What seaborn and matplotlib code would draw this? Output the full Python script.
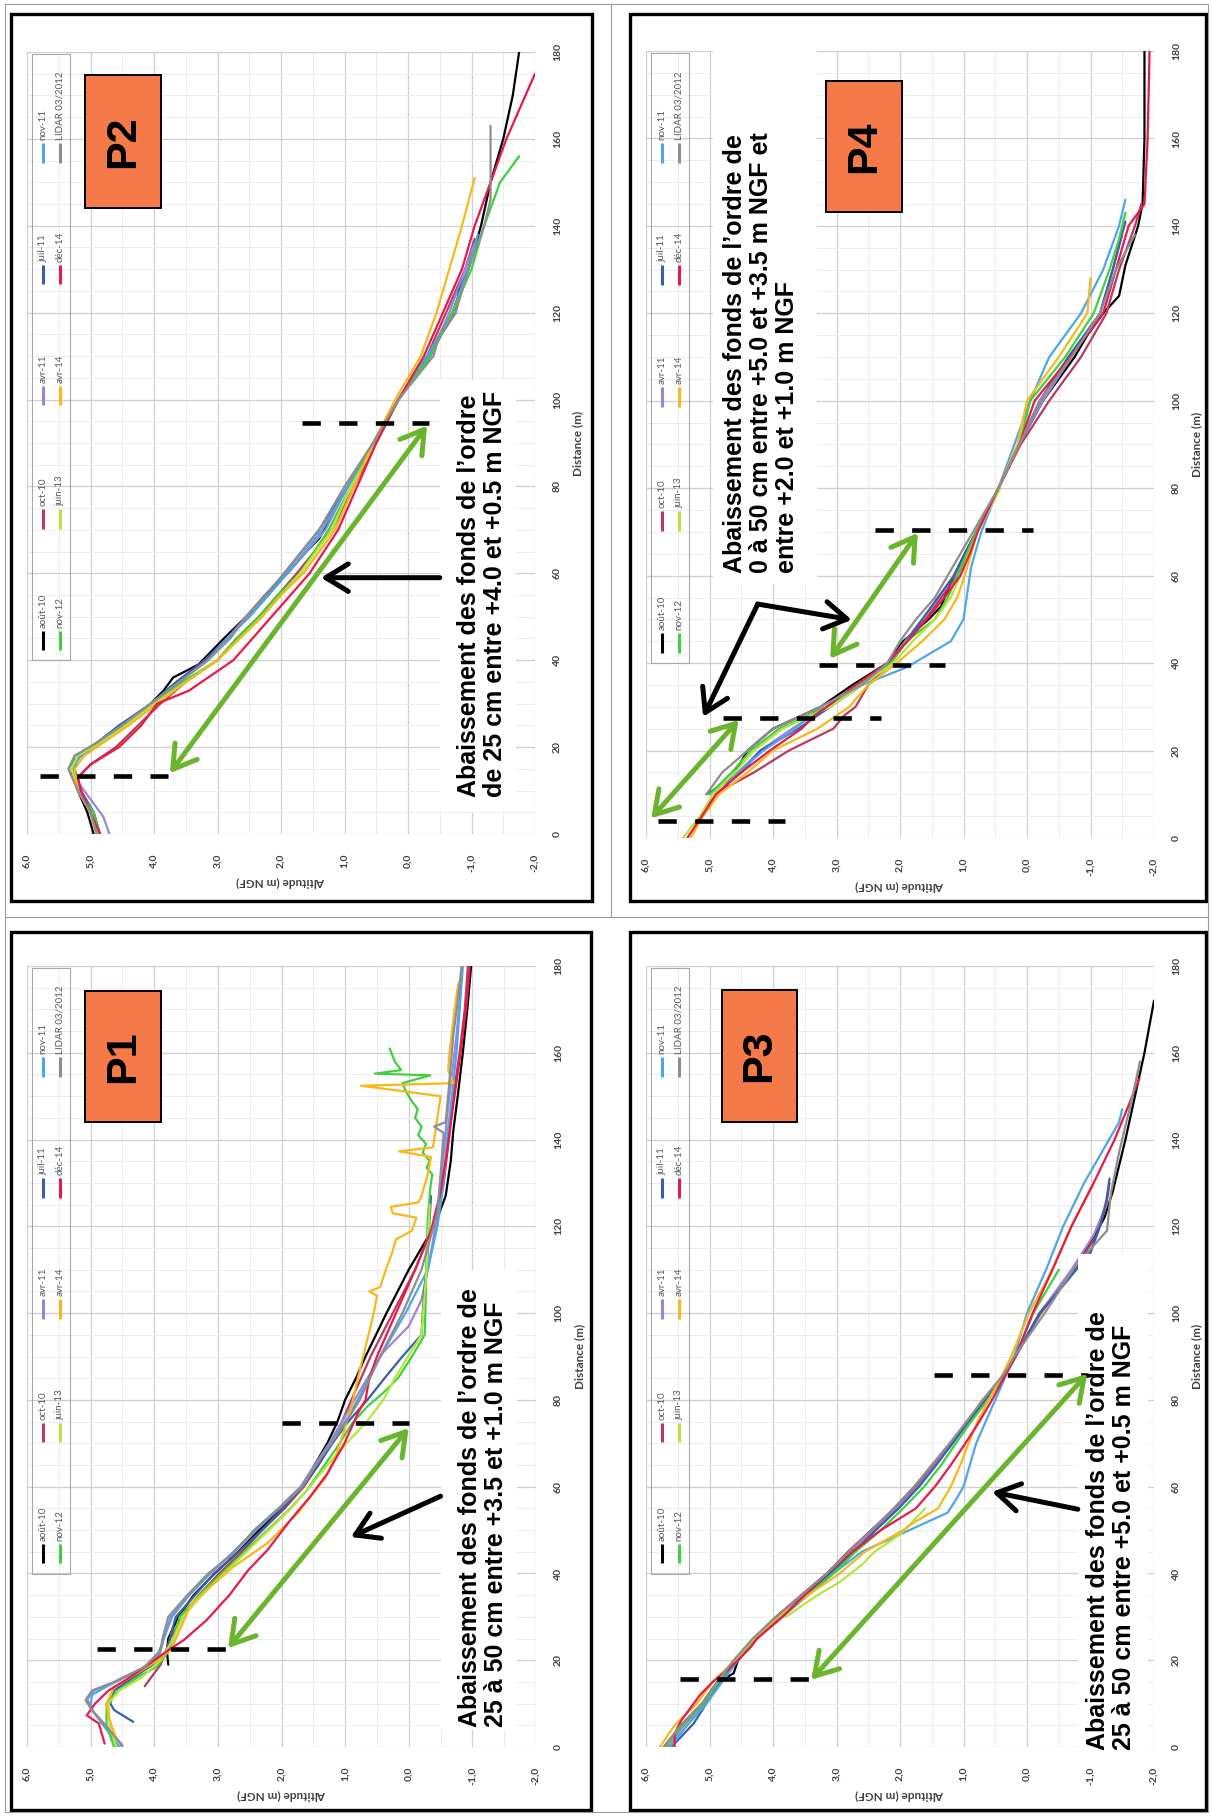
import numpy as np
import pandas as pd
import matplotlib
matplotlib.use("Agg")
import matplotlib.pyplot as plt
import seaborn as sns
from matplotlib.patches import Rectangle
from matplotlib.lines import Line2D

sns.set_theme(style="white")
plt.rcParams['font.family'] = ['Liberation Sans', 'DejaVu Sans']

W, H = 1212, 1816

SERIES = ['août-10', 'oct-10', 'avr-11', 'juil-11', 'nov-11',
          'nov-12', 'juin-13', 'avr-14', 'déc-14', 'LIDAR 03/2012']
COLORS = {'août-10': '#000000', 'oct-10': '#B83A5E', 'avr-11': '#9A86D6',
          'juil-11': '#3B5EAB', 'nov-11': '#4DA6E8', 'nov-12': '#3DD13D',
          'juin-13': '#B5E63C', 'avr-14': '#F6B81A', 'déc-14': '#E8194B',
          'LIDAR 03/2012': '#8E8E8E'}
ALT_TICKS = [6, 5, 4, 3, 2, 1, 0, -1, -2]
ALT_LABELS = ['6,0', '5,0', '4,0', '3,0', '2,0', '1,0', '0,0', '-1,0', '-2,0']
DIST_TICKS = [0, 20, 40, 60, 80, 100, 120, 140, 160, 180]
GREEN = '#6BB52E'
ORANGE = '#F47A4A'

# ---------------- P1 (distance m, altitude m NGF) ----------------
P1_AOUT10 = [(19, 3.78), (22, 3.8), (25, 3.78), (30, 3.62), (35, 3.38), (40, 3.05), (45, 2.68), (50, 2.35),
             (55, 2.0), (60, 1.68), (65, 1.48), (70, 1.28), (75, 1.12), (80, 1.0), (85, 0.83), (90, 0.68),
             (100, 0.35), (110, 0.0), (120, -0.4), (127, -0.58), (135, -0.66), (142, -0.7), (150, -0.77),
             (160, -0.85), (170, -0.92), (180, -0.98)]
P1_OCT10 = [(14, 4.15), (16, 4.05), (19, 3.9), (22, 3.82), (25, 3.75), (30, 3.55), (35, 3.3), (40, 2.98),
            (45, 2.62), (50, 2.3), (55, 1.95), (60, 1.65), (65, 1.42), (70, 1.22), (75, 1.05), (80, 0.9),
            (90, 0.6), (100, 0.25), (110, -0.1), (120, -0.38), (130, -0.55), (140, -0.63), (150, -0.7),
            (160, -0.8), (170, -0.88), (180, -0.93)]
P1_AVR11 = [(0, 4.5), (4, 4.7), (8, 4.95), (11, 5.05), (13, 4.95), (15, 4.6), (18, 4.2), (21, 3.92), (25, 3.85),
            (30, 3.72), (35, 3.45), (40, 3.12), (45, 2.75), (50, 2.42), (55, 2.05), (60, 1.7), (65, 1.48),
            (70, 1.25), (75, 1.05), (80, 0.85), (85, 0.65), (91, 0.4), (97, 0.0), (103, -0.2), (110, -0.3),
            (120, -0.42), (129, -0.5), (137, -0.55), (145, -0.6), (155, -0.68), (164, -0.75), (172, -0.8),
            (178, -0.83)]
P1_JUIL11 = [(5.8, 4.33), (8.5, 4.63), (10, 4.69), (13, 4.63), (16, 4.33), (19, 4.02), (22, 3.8), (27, 3.72),
             (30, 3.66), (35, 3.36), (40, 3.06), (45, 2.67), (50, 2.31), (55, 1.98), (60, 1.67), (65, 1.42),
             (70, 1.2), (75, 0.95), (80, 0.65), (85, 0.38), (90, 0.1), (95, -0.2), (100, -0.22), (106, -0.25),
             (114, -0.3), (120, -0.32), (127, -0.35)]
P1_NOV11 = [(0, 4.55), (5, 4.8), (9, 5.0), (12, 4.98), (15, 4.62), (18, 4.2), (21, 3.95), (25, 3.85), (30, 3.74),
            (35, 3.46), (40, 3.13), (45, 2.75), (50, 2.4), (55, 2.03), (60, 1.68), (65, 1.46), (70, 1.23),
            (75, 1.0), (80, 0.8), (90, 0.45), (100, 0.05), (110, -0.3), (120, -0.45), (130, -0.55),
            (140, -0.6), (150, -0.68), (160, -0.75), (170, -0.8), (180, -0.85)]
P1_NOV12 = [(0, 4.63), (5, 4.75), (10, 4.75), (13, 4.57), (16, 4.27), (18.5, 3.96), (22, 3.78), (26, 3.68),
            (30, 3.6), (35, 3.3), (40, 2.94), (45, 2.58), (50, 2.22), (55, 1.86), (59, 1.61), (64, 1.37),
            (69, 1.13), (74.6, 0.89), (78.5, 0.65), (81.5, 0.41), (85, 0.17), (90, -0.05), (95, -0.25),
            (105, -0.27), (114, -0.28), (122, -0.3), (129, -0.34), (132, -0.37), (133.5, -0.28), (135, -0.33),
            (137, -0.22), (139, -0.27), (141, -0.15), (143, -0.2), (145, -0.1), (147, -0.14), (149, -0.04),
            (151, 0.04), (153, 0.1), (154.8, -0.34), (155.2, 0.53), (156, 0.12), (158, 0.22), (161, 0.3)]
P1_JUIN13 = [(0, 4.6), (5, 4.7), (10, 4.72), (13, 4.55), (16, 4.2), (20, 3.9), (25, 3.7), (30, 3.55), (35, 3.25),
             (40, 2.9), (45, 2.55), (50, 2.2), (55, 1.85), (60, 1.55), (65, 1.28), (70, 0.98), (75, 0.66),
             (80, 0.4), (85, 0.22), (95, -0.2), (110, -0.28), (125, -0.33)]
P1_AVR14 = [(2, 4.6), (7, 4.72), (10, 4.75), (13.8, 4.63), (17, 4.27), (20.4, 3.9), (23, 3.72), (27, 3.6),
            (33, 3.42), (37.7, 3.06), (41.5, 2.76), (47, 2.22), (54, 1.74), (58.5, 1.5), (62, 1.31),
            (67.7, 1.13), (74.6, 0.98), (79, 0.89), (85, 0.8), (91, 0.7), (97, 0.6), (100, 0.55), (104, 0.5),
            (105, 0.62), (106, 0.45), (110, 0.36), (114, 0.26), (117, 0.2), (119, -0.05), (122, -0.12),
            (123, 0.25), (124.5, 0.28), (125.5, -0.15), (127, -0.2), (132, -0.3), (136, -0.35), (137.3, 0.15),
            (138.2, -0.38), (145, -0.45), (150, -0.5), (152.4, 0.75), (153, -0.7), (156, -0.62), (160, -0.64),
            (165, -0.68), (170, -0.72), (176, -0.78)]
P1_DEC14 = [(0.8, 4.78), (5.4, 4.87), (7.3, 5.06), (10, 4.93), (13, 4.72), (15.4, 4.45), (18.5, 4.14),
            (22.3, 3.78), (24.6, 3.54), (29.2, 3.18), (35, 2.82), (40.8, 2.52), (45.4, 2.22), (52.3, 1.86),
            (57.7, 1.55), (63, 1.28), (70, 1.01), (76.9, 0.8), (80, 0.68), (85, 0.62), (90, 0.5), (100, 0.2),
            (110, -0.1), (119, -0.35), (128, -0.5), (137, -0.6), (148, -0.7), (158.5, -0.8), (170, -0.9),
            (180, -0.96)]
P1_LIDAR = [(0.4, 4.5), (8.5, 4.98), (10.8, 5.08), (13, 4.98), (15, 4.63), (18.5, 4.15), (22.3, 3.9), (25, 3.87),
            (30, 3.78), (35, 3.48), (40, 3.15), (44.6, 2.76), (50, 2.43), (55, 2.04), (60, 1.67), (65, 1.46),
            (70, 1.22), (75, 0.98), (80, 0.77), (90, 0.45), (100, 0.1), (110, -0.2), (123, -0.45), (132, -0.5),
            (141.5, -0.55), (143, -0.4), (144, -0.58), (152, -0.63), (164, -0.7), (172, -0.77), (180, -0.83)]

# ---------------- P2 ----------------
P2_AOUT10 = [(0, 4.95), (5, 5.05), (10, 5.2), (14, 5.3), (17, 5.25), (20, 4.95), (25, 4.5), (30, 4.05), (33, 3.85),
             (36, 3.7), (39, 3.3), (45, 2.9), (50, 2.55), (55, 2.25), (60, 1.9), (65, 1.6), (68, 1.4), (72, 1.25),
             (80, 0.95), (90, 0.55), (100, 0.15), (110, -0.35), (120, -0.7), (130, -0.95), (140, -1.15),
             (150, -1.3), (160, -1.5), (170, -1.65), (180, -1.75)]
P2_OCT10 = [(0, 4.9), (5, 5.0), (10, 5.15), (13, 5.2), (16, 5.0), (20, 4.6), (25, 4.25), (30, 3.9), (35, 3.5),
            (40, 3.0), (45, 2.7), (50, 2.35), (55, 2.05), (60, 1.75), (70, 1.2), (80, 0.85), (90, 0.5),
            (100, 0.15), (110, -0.3), (120, -0.6), (130, -0.9), (137, -1.05)]
P2_AVR11 = [(0, 4.7), (4, 4.8), (8, 5.0), (12, 5.2), (16, 5.3), (19, 5.1), (22, 4.8), (26, 4.4), (30, 4.0),
            (35, 3.6), (40, 3.2), (45, 2.85), (50, 2.55), (55, 2.2), (60, 1.9), (70, 1.3), (80, 0.95), (90, 0.55),
            (100, 0.15), (110, -0.35), (120, -0.65), (130, -0.9), (136, -1.05)]
P2_JUIL11 = [(0, 4.85), (5, 4.95), (10, 5.15), (15, 5.25), (18, 5.2), (21, 4.9), (25, 4.55), (30, 4.05),
             (35, 3.65), (40, 3.2), (45, 2.85), (50, 2.5), (55, 2.2), (60, 1.95), (70, 1.4), (80, 0.95),
             (90, 0.55), (100, 0.15), (110, -0.3), (120, -0.75), (125, -0.8), (130, -0.95), (135, -1.05)]
P2_NOV11 = [(0, 4.9), (5, 5.0), (10, 5.15), (15, 5.3), (18, 5.15), (21, 4.85), (25, 4.5), (30, 4.05), (35, 3.6),
            (40, 3.15), (45, 2.85), (50, 2.5), (55, 2.2), (60, 1.9), (70, 1.35), (80, 0.95), (90, 0.55),
            (100, 0.15), (110, -0.3), (120, -0.7), (130, -0.95), (138, -1.1)]
P2_NOV12 = [(0, 4.85), (5, 4.95), (10, 5.2), (15, 5.3), (18, 5.25), (21, 4.9), (25, 4.5), (30, 4.0), (35, 3.55),
            (40, 3.0), (45, 2.7), (50, 2.35), (55, 2.05), (60, 1.7), (70, 1.25), (80, 0.9), (90, 0.55),
            (100, 0.15), (110, -0.35), (120, -0.7), (130, -1.0), (140, -1.2), (150, -1.45), (156, -1.75)]
P2_JUIN13 = [(0, 4.9), (5, 5.0), (10, 5.2), (15, 5.3), (18, 5.2), (21, 4.85), (25, 4.45), (30, 4.0), (35, 3.5),
             (40, 3.0), (45, 2.65), (50, 2.3), (55, 2.0), (60, 1.7), (70, 1.2), (80, 0.9), (90, 0.5), (100, 0.15)]
P2_AVR14 = [(0, 4.9), (5, 5.0), (10, 5.2), (15, 5.25), (18, 5.1), (21, 4.8), (25, 4.4), (30, 3.95), (35, 3.5),
            (40, 3.0), (45, 2.65), (50, 2.3), (55, 2.0), (60, 1.65), (70, 1.15), (80, 0.85), (90, 0.55),
            (100, 0.2), (110, -0.2), (120, -0.45), (130, -0.65), (140, -0.85), (151, -1.05)]
P2_DEC14 = [(0, 4.85), (5, 5.0), (10, 5.15), (13, 5.2), (16, 5.0), (20, 4.55), (25, 4.2), (30, 3.95), (33, 3.45),
            (40, 2.75), (45, 2.45), (50, 2.15), (55, 1.85), (60, 1.55), (70, 1.1), (80, 0.8), (90, 0.5),
            (100, 0.15), (110, -0.25), (120, -0.55), (130, -0.85), (140, -1.05), (150, -1.3), (160, -1.55),
            (170, -1.85), (175, -2.0)]
P2_LIDAR = [(0, 4.9), (5, 5.0), (10, 5.2), (15, 5.35), (18, 5.25), (21, 4.9), (25, 4.5), (30, 4.05), (35, 3.6),
            (40, 3.15), (45, 2.8), (50, 2.55), (55, 2.25), (60, 1.95), (70, 1.4), (80, 1.0), (90, 0.55),
            (100, 0.15), (110, -0.4), (115, -0.5), (120, -0.75), (125, -0.85), (130, -0.95), (140, -1.2),
            (146, -1.3), (150, -1.3), (158, -1.3), (163, -1.3)]

# ---------------- P3 ----------------
P3_AOUT10 = [(0, 5.7), (5, 5.45), (10, 5.1), (15, 4.85), (17, 4.62), (20, 4.55), (22, 4.45), (25, 4.3), (30, 3.95),
             (35, 3.55), (40, 3.15), (45, 2.8), (50, 2.45), (55, 2.05), (60, 1.75), (65, 1.45), (70, 1.2),
             (75, 0.93), (80, 0.68), (86, 0.35), (90, 0.18), (100, -0.2), (109, -0.7), (115, -0.95),
             (122, -1.22), (128, -1.35), (140, -1.55), (150, -1.7), (160, -1.85), (172, -2.0)]
P3_OCT10 = [(0, 5.72), (5, 5.45), (10, 5.12), (15, 4.88), (20, 4.6), (25, 4.3), (30, 3.95), (35, 3.55),
            (40, 3.15), (45, 2.82), (50, 2.45), (55, 2.08), (60, 1.75), (65, 1.47), (70, 1.2), (75, 0.95),
            (80, 0.68), (86, 0.35), (90, 0.2), (100, -0.22), (109.6, -0.72), (118, -1.1), (125, -1.25),
            (130, -1.3)]
P3_AVR11 = [(0, 5.65), (5, 5.4), (10, 5.08), (15, 4.85), (20, 4.6), (25, 4.3), (30, 3.92), (35, 3.5), (40, 3.1),
            (45, 2.75), (50, 2.4), (55, 2.05), (60, 1.72), (65, 1.45), (70, 1.18), (75, 0.92), (80, 0.66),
            (86, 0.35), (90, 0.18), (100, -0.2), (110, -0.7), (118, -1.05), (125, -1.25)]
P3_JUIL11 = [(0, 5.6), (5.4, 5.25), (10, 5.05), (15, 4.82), (20, 4.58), (25, 4.28), (30, 3.9), (35, 3.48),
             (40, 3.1), (45, 2.72), (50, 2.38), (55, 2.02), (60, 1.7), (65, 1.43), (70, 1.17), (75, 0.92),
             (80, 0.65), (86, 0.34), (90, 0.18), (100, -0.2), (106.5, -0.58), (114, -1.0), (120, -1.15),
             (126, -1.25), (131, -1.3)]
P3_NOV11 = [(0, 5.62), (5, 5.35), (10, 5.05), (15, 4.8), (20, 4.55), (25, 4.25), (30, 3.85), (35, 3.45),
            (40, 3.05), (45, 2.6), (50, 1.85), (54, 1.25), (57, 1.12), (60, 1.0), (65, 0.9), (70, 0.8),
            (75, 0.65), (80, 0.5), (85, 0.35), (90, 0.2), (100, 0.0), (110, -0.3), (120, -0.57), (130, -0.9),
            (144, -1.45), (147, -1.5)]
P3_NOV12 = [(0, 5.7), (5, 5.42), (10, 5.1), (15, 4.86), (20, 4.6), (25, 4.28), (30, 3.9), (35, 3.45), (40, 3.05),
            (45, 2.7), (50, 2.3), (55, 1.95), (60, 1.62), (65, 1.35), (70, 1.12), (75, 0.88), (80, 0.62),
            (86, 0.33), (90, 0.18), (100, -0.1), (110, -0.5)]
P3_JUIN13 = [(30, 3.8), (35, 3.3), (38, 2.95), (42, 2.6), (45, 2.4), (49, 2.0), (52, 1.8), (55, 1.6)]
P3_AVR14 = [(0, 5.78), (5, 5.55), (10, 5.2), (15, 4.95), (20, 4.6), (25, 4.3), (30, 3.92), (35, 3.45), (40, 2.95),
            (45, 2.55), (50, 1.95), (52, 1.75), (55, 1.4), (60, 1.2), (65, 1.05), (70, 0.92), (75, 0.78),
            (80, 0.6), (86, 0.38), (90, 0.25), (100, -0.03), (110, -0.4), (120, -0.7), (130, -1.05)]
P3_DEC14 = [(0, 5.55), (3, 5.55), (6, 5.45), (10, 5.25), (12, 5.15), (15, 4.95), (18, 4.7), (20, 4.55), (23, 4.35),
            (25, 4.25), (30, 3.85), (35, 3.5), (40, 3.15), (45, 2.75), (50, 2.3), (55, 1.75), (60, 1.45),
            (65, 1.2), (70, 0.97), (75, 0.75), (80, 0.55), (86, 0.33), (90, 0.18), (100, -0.09), (110, -0.4),
            (120, -0.7), (130, -1.05), (140, -1.38), (154, -1.77)]
P3_LIDAR = [(0, 5.72), (5, 5.45), (10, 5.12), (15, 4.88), (20, 4.62), (25, 4.32), (30, 3.95), (35, 3.55),
            (40, 3.15), (45, 2.8), (50, 2.45), (55, 2.1), (60, 1.78), (65, 1.5), (70, 1.22), (75, 0.95),
            (80, 0.7), (86, 0.36), (90, 0.2), (100, -0.28), (111, -0.77), (119, -1.26), (127.5, -1.32),
            (137, -1.45), (148, -1.63), (158, -1.78)]

# ---------------- P4 ----------------
P4_AOUT10 = [(11.5, 4.75), (13, 4.7), (15, 4.6), (20, 4.4), (25, 4.0), (28, 3.55), (30, 3.25), (35, 2.75),
             (40, 2.2), (45, 1.95), (50, 1.55), (53, 1.35), (55, 1.3), (60, 1.15), (65, 0.98), (70, 0.8),
             (80, 0.45), (90, 0.12), (100, -0.25), (110, -0.75), (115, -0.95), (120, -1.2), (124, -1.45),
             (131, -1.55), (140, -1.75), (145, -1.82), (160, -1.85), (180, -1.85)]
P4_OCT10 = [(11, 4.8), (15, 4.3), (20, 3.75), (25, 3.05), (28, 2.88), (30, 2.7), (35, 2.5), (40, 2.15), (45, 1.9),
            (50, 1.6), (55, 1.35), (60, 1.1), (65, 0.92), (70, 0.78), (80, 0.45), (90, 0.1), (100, -0.35),
            (110, -0.85), (120, -1.25), (130, -1.45), (140, -1.7), (145, -1.8)]
P4_AVR11 = [(10, 5.0), (15, 4.55), (20, 4.2), (25, 3.7), (30, 3.15), (35, 2.62), (40, 2.18), (45, 1.92),
            (50, 1.65), (55, 1.4), (60, 1.15), (65, 0.95), (70, 0.8), (80, 0.45), (90, 0.12), (100, -0.25),
            (110, -0.7), (120, -1.15), (130, -1.35), (138, -1.5)]
P4_JUIL11 = [(10, 5.05), (15, 4.5), (20, 4.2), (25, 3.6), (30, 3.1), (35, 2.6), (40, 2.15), (45, 1.9), (50, 1.65),
             (55, 1.4), (60, 1.15), (70, 0.8), (80, 0.45), (90, 0.12), (100, -0.2), (110, -0.65), (120, -1.15),
             (130, -1.35), (141, -1.55)]
P4_NOV11 = [(8, 5.0), (12, 4.75), (15, 4.55), (20, 4.15), (25, 3.65), (30, 3.25), (35, 2.6), (39, 1.9),
            (42, 1.55), (45, 1.2), (50, 1.0), (57, 0.93), (62, 0.88), (65, 0.82), (70, 0.72), (80, 0.45),
            (90, 0.2), (100, -0.05), (110, -0.35), (120, -0.85), (130, -1.2), (140, -1.45), (146, -1.55)]
P4_NOV12 = [(10, 5.0), (15, 4.65), (20, 4.35), (25, 3.9), (28, 3.45), (30, 3.15), (35, 2.65), (40, 2.15),
            (45, 1.9), (50, 1.45), (55, 1.25), (60, 1.1), (70, 0.8), (80, 0.45), (90, 0.12), (100, -0.05),
            (110, -0.6), (120, -1.05), (130, -1.3), (137, -1.45), (143, -1.55)]
P4_JUIN13 = [(0, 5.42), (5, 5.15), (10, 4.95), (15, 4.6), (20, 4.3), (25, 3.85), (30, 3.1), (35, 2.6), (40, 2.1),
             (45, 1.8), (50, 1.45), (55, 1.2), (60, 1.05), (70, 0.78), (80, 0.42)]
P4_AVR14 = [(0, 5.3), (5, 5.1), (10, 4.85), (15, 4.4), (20, 4.0), (25, 3.3), (30, 2.8), (35, 2.5), (40, 2.05),
            (45, 1.65), (50, 1.3), (55, 1.1), (60, 0.98), (65, 0.88), (70, 0.78), (80, 0.45), (90, 0.15),
            (100, 0.0), (110, -0.5), (120, -0.95), (128, -1.0)]
P4_DEC14 = [(0, 5.35), (5, 5.12), (10, 4.9), (15, 4.5), (20, 4.05), (25, 3.55), (28, 3.35), (30, 3.15), (35, 2.7),
            (40, 2.2), (45, 1.88), (50, 1.58), (55, 1.3), (60, 1.05), (65, 0.9), (70, 0.78), (80, 0.45),
            (90, 0.12), (100, -0.12), (110, -0.68), (120, -1.2), (130, -1.4), (140, -1.6), (145, -1.85),
            (160, -1.9), (180, -1.93)]
P4_LIDAR = [(10, 5.05), (15, 4.8), (20, 4.4), (25, 4.0), (28, 3.55), (30, 3.25), (35, 2.6), (40, 2.2), (45, 2.0),
            (50, 1.75), (55, 1.45), (60, 1.25), (65, 1.05), (70, 0.85), (80, 0.45), (90, 0.12), (100, -0.2),
            (110, -0.7), (120, -1.15), (130, -1.4), (138, -1.7)]

P1_SERIES = [P1_AOUT10, P1_OCT10, P1_AVR11, P1_JUIL11, P1_NOV11, P1_NOV12, P1_JUIN13, P1_AVR14, P1_DEC14, P1_LIDAR]
P2_SERIES = [P2_AOUT10, P2_OCT10, P2_AVR11, P2_JUIL11, P2_NOV11, P2_NOV12, P2_JUIN13, P2_AVR14, P2_DEC14, P2_LIDAR]
P3_SERIES = [P3_AOUT10, P3_OCT10, P3_AVR11, P3_JUIL11, P3_NOV11, P3_NOV12, P3_JUIN13, P3_AVR14, P3_DEC14, P3_LIDAR]
P4_SERIES = [P4_AOUT10, P4_OCT10, P4_AVR11, P4_JUIL11, P4_NOV11, P4_NOV12, P4_JUIN13, P4_AVR14, P4_DEC14, P4_LIDAR]

TXT_P1 = "Abaissement des fonds de l\u2019ordre de\n25 à 50 cm entre +3.5 et +1.0 m NGF"
TXT_P2 = "Abaissement des fonds de l\u2019ordre\nde 25 cm entre +4.0 et +0.5 m NGF"
TXT_P3 = "Abaissement des fonds de l\u2019ordre de\n25 à 50 cm entre +5.0 et +0.5 m NGF"
TXT_P4 = "Abaissement des fonds de l\u2019ordre de\n0 à 50 cm entre +5.0 et +3.5 m NGF et\nentre +2.0 et +1.0 m NGF"


def fig_rect(x0, y0, x1, y1):
    return [x0 / W, 1 - y1 / H, (x1 - x0) / W, (y1 - y0) / H]


fig = plt.figure(figsize=(W / 100, H / 100), dpi=100)
fig.patch.set_facecolor('white')

# thin outer lines
for (xa, ya, xb, yb) in [(5, 4, 1208, 4), (5, 4, 5, 1812), (1208, 4, 1208, 1812), (5, 1812, 1208, 1812),
                         (611, 4, 611, 917), (5, 917, 1208, 917)]:
    fig.add_artist(Line2D([xa / W, xb / W], [1 - ya / H, 1 - yb / H], transform=fig.transFigure,
                          color='#9A9A9A', lw=0.8))

# thick panel frames
for (x0, y0, x1, y1) in [(11, 14, 592, 901), (630, 14, 1206, 901), (11, 932, 591, 1810), (630, 932, 1206, 1810)]:
    fig.add_artist(Rectangle((x0 / W, 1 - y1 / H), (x1 - x0) / W, (y1 - y0) / H, transform=fig.transFigure,
                             fill=False, ec='black', lw=2.4))


def setup_axes(ax):
    ax.set_xlim(6, -2)
    ax.set_ylim(0, 180)
    ax.set_xticks(ALT_TICKS)
    ax.set_xticklabels(ALT_LABELS)
    ax.set_yticks(DIST_TICKS)
    ax.set_yticklabels([str(t) for t in DIST_TICKS])
    ax.set_xticks(np.arange(-1.5, 6.0, 1.0), minor=True)
    ax.set_yticks(np.arange(0, 181, 5), minor=True)
    ax.grid(which='minor', color='#EDEDED', lw=0.7)
    ax.grid(which='major', color='#CFCFCF', lw=0.9)
    ax.set_axisbelow(True)
    ax.yaxis.tick_right()
    ax.tick_params(which='both', length=0)
    ax.tick_params(axis='x', pad=14, labelrotation=90)
    ax.tick_params(axis='y', pad=13, labelrotation=90)
    for lbl in ax.get_xticklabels() + ax.get_yticklabels():
        lbl.set_fontfamily('Lato')
        lbl.set_fontweight('bold')
        lbl.set_fontsize(7.5)
        lbl.set_color('#404040')
    for lbl in ax.get_yticklabels():
        lbl.set_va('center')
    for s in ax.spines.values():
        s.set_visible(False)
    ax.set_xlabel('')
    ax.set_ylabel('')
    ax.text(0.5, -0.062, 'Altitude (m NGF)', rotation=180, ha='center', va='center', transform=ax.transAxes,
            fontsize=8.5, fontweight='bold', family='Lato', color='#404040')
    ax.text(1.085, 0.5, 'Distance (m)', rotation=90, ha='center', va='center', transform=ax.transAxes,
            fontsize=8.5, fontweight='bold', family='Lato', color='#404040')


def draw_legend(ax):
    ax.add_patch(Rectangle((0.01, 0.222), 0.075, 0.776, transform=ax.transAxes, fill=False,
                           ec='#A8A8A8', lw=0.8, zorder=4))
    ys = [0.235, 0.39, 0.548, 0.703, 0.858]
    for i, y0 in enumerate(ys):
        for row, xr in enumerate([0.031, 0.065]):
            name = SERIES[row * 5 + i]
            ax.add_line(Line2D([xr, xr], [y0, y0 + 0.025], transform=ax.transAxes, color=COLORS[name],
                               lw=2.2, solid_capstyle='butt', zorder=4))
            ax.text(xr, y0 + 0.029, name, rotation=90, ha='center', va='bottom', fontsize=7,
                    family='Lato', color='#595959', transform=ax.transAxes, zorder=4)


def draw_curves(ax, lists):
    rows = []
    for name, pts in zip(SERIES, lists):
        for d, a in pts:
            rows.append({'serie': name, 'dist': d, 'alt': a})
    df = pd.DataFrame(rows)
    sns.lineplot(data=df, x='alt', y='dist', hue='serie', hue_order=SERIES, palette=COLORS,
                 sort=False, estimator=None, legend=False, linewidth=1.6, ax=ax)
    ax.set_xlabel('')
    ax.set_ylabel('')


def pbox(ax, x0, x1, y0, y1, label):
    ax.add_patch(Rectangle((x0, y0), x1 - x0, y1 - y0, transform=ax.transAxes, fc=ORANGE, ec='black',
                           lw=1.4, zorder=6))
    ax.text((x0 + x1) / 2, (y0 + y1) / 2, label, rotation=90, ha='center', va='center', transform=ax.transAxes,
            fontsize=31, fontweight='bold', color='black', zorder=7)


def white_box(ax, a0, a1, d0, d1):
    ax.add_patch(Rectangle((min(a0, a1), d0), abs(a1 - a0), d1 - d0, fc='white', ec='none', zorder=2.4,
                           clip_on=False))


def note(ax, alt, dist, txt):
    ax.text(alt, dist, txt, rotation=90, ha='left', va='bottom', fontsize=18, fontweight='bold',
            linespacing=1.1, multialignment='left', color='black', zorder=7)


def dashed(ax, a0, a1, d):
    ax.plot([a0, a1], [d, d], color='black', lw=3.3, ls=(0, (4, 4)), dash_capstyle='butt', zorder=8,
            clip_on=False)


def green_arrow(ax, p0, p1):
    ax.annotate('', xy=p1, xytext=p0, xycoords='data', textcoords='data', annotation_clip=False,
                arrowprops=dict(arrowstyle='<->,head_length=0.9,head_width=0.55', color=GREEN, lw=3.6,
                                shrinkA=0, shrinkB=0, mutation_scale=18), zorder=9)


def black_arrow(ax, p0, p1):
    ax.annotate('', xy=p1, xytext=p0, xycoords='data', textcoords='data', annotation_clip=False,
                arrowprops=dict(arrowstyle='->,head_length=0.9,head_width=0.55', color='black', lw=3.6,
                                shrinkA=0, shrinkB=0, mutation_scale=18), zorder=9)


ax1 = fig.add_axes(fig_rect(27, 966, 536, 1747))
ax2 = fig.add_axes(fig_rect(27, 52, 535, 834))
ax3 = fig.add_axes(fig_rect(646, 966, 1154, 1747))
ax4 = fig.add_axes(fig_rect(646, 51, 1154, 838))

for ax, lists in [(ax1, P1_SERIES), (ax2, P2_SERIES), (ax3, P3_SERIES), (ax4, P4_SERIES)]:
    draw_curves(ax, lists)
    setup_axes(ax)
    draw_legend(ax)

# ---- P2 ----
pbox(ax2, 0.114, 0.264, 0.80, 0.971, 'P2')
white_box(ax2, -0.5, -1.7, 5, 104.5)
note(ax2, -0.77, 8.5, TXT_P2)
dashed(ax2, 5.8, 3.78, 13.4)
dashed(ax2, 1.67, -0.33, 94.5)
green_arrow(ax2, (3.75, 14.0), (-0.3, 94.0))
black_arrow(ax2, (-0.5, 59.0), (1.37, 59.0))

# ---- P1 ----
pbox(ax1, 0.114, 0.264, 0.80, 0.968, 'P1')
white_box(ax1, -0.5, -1.7, 4, 110)
note(ax1, -0.77, 4.6, TXT_P1)
dashed(ax1, 4.9, 2.85, 22.6)
dashed(ax1, 2.0, 0.0, 74.7)
green_arrow(ax1, (2.84, 22.8), (0.0, 73.5))
black_arrow(ax1, (-0.5, 57.8), (0.91, 48.4))

# ---- P3 ----
pbox(ax3, 0.15, 0.297, 0.80, 0.969, 'P3')
white_box(ax3, -0.8, -1.9, -2, 113.6)
note(ax3, -0.93, -0.8, TXT_P3)
dashed(ax3, 5.46, 3.43, 15.7)
dashed(ax3, 1.46, -0.96, 85.7)
green_arrow(ax3, (3.4, 15.5), (-0.95, 86.0))
black_arrow(ax3, (-0.8, 54.8), (0.55, 58.8))

# ---- P4 ----
pbox(ax4, 0.354, 0.504, 0.795, 0.962, 'P4')
white_box(ax4, 4.94, 3.31, 58, 180)
note(ax4, 4.79, 60.5, TXT_P4)
dashed(ax4, 5.81, 3.81, 4.0)
dashed(ax4, 4.79, 2.30, 27.4)
dashed(ax4, 3.28, 1.29, 39.6)
dashed(ax4, 2.39, -0.1, 70.4)
green_arrow(ax4, (5.92, 4.5), (4.54, 27.0))
green_arrow(ax4, (3.1, 41.0), (1.72, 69.8))
black_arrow(ax4, (4.24, 53.5), (5.1, 27.7))
black_arrow(ax4, (4.24, 53.5), (2.76, 49.9))

fig.savefig('out.png', dpi=100, facecolor='white')
